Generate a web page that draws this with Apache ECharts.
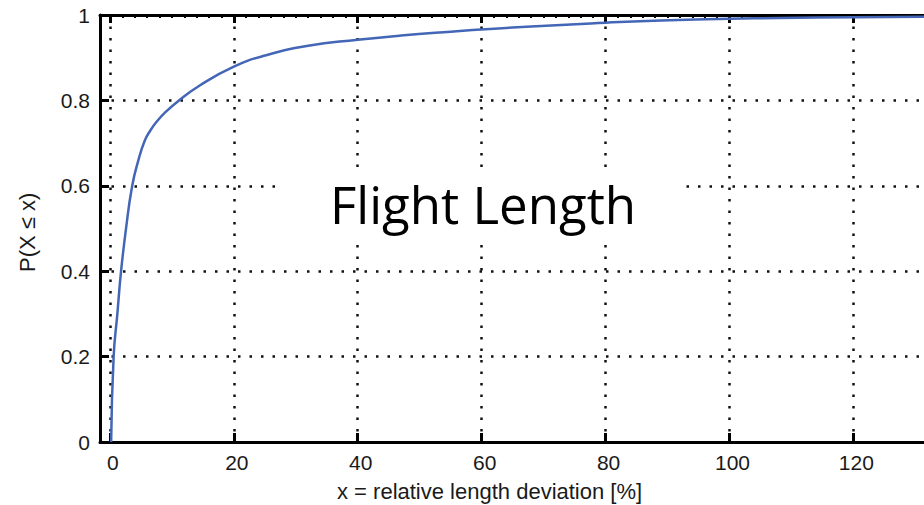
<!DOCTYPE html>
<html>
<head>
<meta charset="utf-8">
<script src="https://cdn.jsdelivr.net/npm/echarts@6/dist/echarts.min.js"></script>
<style>
  html, body { margin: 0; padding: 0; background: #fff; }
  #main { width: 924px; height: 505px; }
</style>
</head>
<body>
<div id="main"></div>
<script>
// CDF of relative flight length deviation
var deviation = [0.2, 0.6, 1.2, 1.8, 2.6, 3.6, 4.6, 5.6, 6.5, 7.6, 9, 11, 14.5, 20, 25, 32, 40, 47, 55, 62, 68, 76, 80, 89, 100, 108, 120, 131.4];
var probability = [0, 0.2, 0.3, 0.4, 0.5, 0.6, 0.66, 0.705, 0.729, 0.751, 0.773, 0.798, 0.835, 0.879, 0.905, 0.928, 0.942, 0.952, 0.961, 0.968, 0.973, 0.979, 0.982, 0.987, 0.991, 0.993, 0.995, 0.996];

var xTicks = [0, 20, 40, 60, 80, 100, 120];
var titleText = 'Flight Length';
var xName = 'x = relative length deviation [%]';
var yName = 'P(X \u2264 x)';

// small ticks along the top frame, every 2 %
var xMinorTicks = [];
for (var t = 0; t <= 130; t += 2) xMinorTicks.push(t);

var chartDom = document.getElementById('main');
var myChart = echarts.init(chartDom, null, { renderer: 'svg' });

var labelFont = { fontFamily: 'Liberation Sans', fontSize: 21, color: '#1a1a1a' };
var dotted = { color: '#111', width: 2.5, type: [2.5, 9] };

var points = [];
for (var i = 0; i < deviation.length; i++) {
    points.push([deviation[i], probability[i]]);
}

var option = {
    backgroundColor: '#fff',
    animation: false,
    grid: { left: 100, top: 15, right: 0, bottom: 63, containLabel: false },
    xAxis: [
        {
            type: 'value', position: 'bottom', min: -1.6, max: 131.4,
            axisLine: { show: true, onZero: false, lineStyle: { color: '#000', width: 3 } },
            axisTick: { show: true, inside: true, length: 9, customValues: xTicks, lineStyle: { color: '#000', width: 3 } },
            axisLabel: Object.assign({ customValues: xTicks, margin: 10, padding: [0, 0, 0, 6] }, labelFont),
            splitLine: { show: true, lineStyle: dotted }
        },
        {
            type: 'value', position: 'top', min: -1.6, max: 131.4,
            axisLine: { show: true, onZero: false, lineStyle: { color: '#000', width: 3 } },
            axisTick: { show: true, inside: true, length: 3, customValues: xMinorTicks, lineStyle: { color: '#000', width: 2 } },
            axisLabel: { show: false },
            splitLine: { show: false }
        },
        {
            type: 'value', position: 'top', min: -1.6, max: 131.4,
            axisLine: { show: false, onZero: false },
            axisTick: { show: true, inside: true, length: 8, customValues: xTicks, lineStyle: { color: '#000', width: 3 } },
            axisLabel: { show: false },
            splitLine: { show: false }
        }
    ],
    yAxis: {
        type: 'value', min: 0, max: 1, interval: 0.2,
        axisLine: { show: true, onZero: false, lineStyle: { color: '#000', width: 3 } },
        axisTick: { show: true, inside: true, length: 9, lineStyle: { color: '#000', width: 3 } },
        axisLabel: Object.assign({ margin: 10 }, labelFont),
        splitLine: { show: true, lineStyle: dotted }
    },
    graphic: [
        {
            type: 'rect', left: 275, top: 172, z: 50,
            shape: { width: 408, height: 71 },
            style: { fill: '#fff' }
        },
        {
            type: 'text', left: 330, top: 178, z: 51,
            style: { text: titleText, fill: '#000', font: '51px "Open Sans"' }
        },
        {
            type: 'text', left: 337, top: 480,
            style: { text: xName, fill: '#1a1a1a', font: '22px "Liberation Sans"' }
        },
        {
            type: 'text', x: 16, y: 272, rotation: Math.PI / 2,
            style: { text: yName, fill: '#1a1a1a', font: '22px "Liberation Sans"', textVerticalAlign: 'top' }
        }
    ],
    series: [{
        type: 'line',
        xAxisIndex: 0,
        data: points,
        showSymbol: false,
        smooth: 0.5,
        lineStyle: { color: '#4466b6', width: 2.5 },
        z: 5
    }]
};
myChart.setOption(option);
</script>
</body>
</html>
